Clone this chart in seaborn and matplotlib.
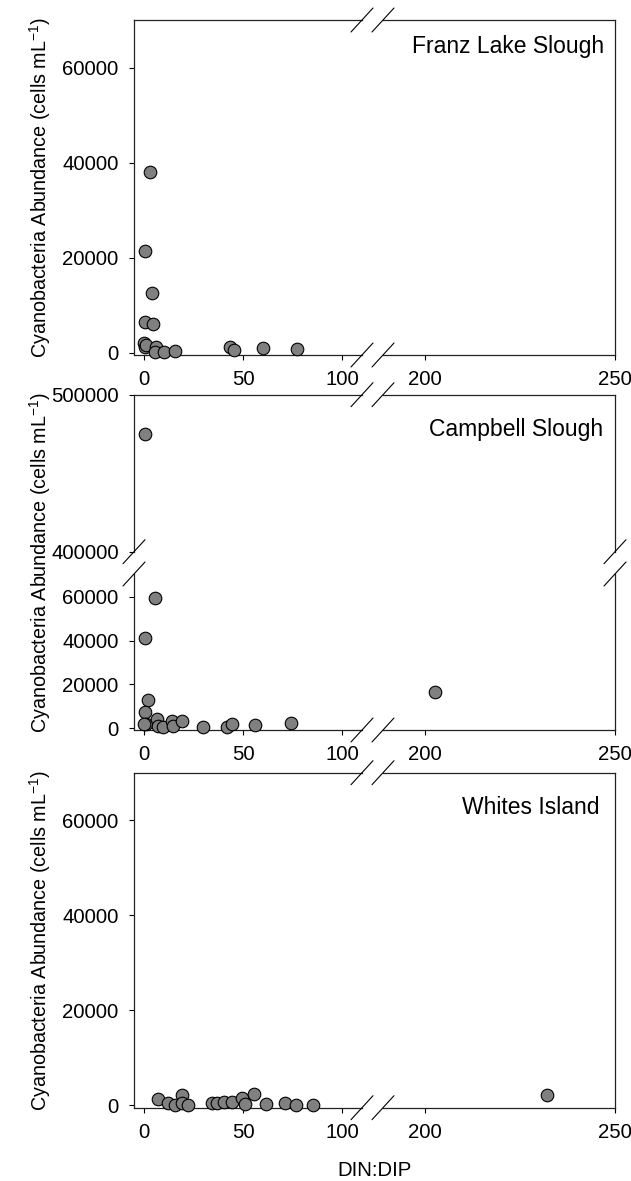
import matplotlib
matplotlib.use('Agg')
import matplotlib.pyplot as plt
import seaborn as sns
import numpy as np
from matplotlib.lines import Line2D
from matplotlib.ticker import StrMethodFormatter

# --- data (DIN:DIP vs cyanobacteria cells/mL) ---
fls_x = [3.0, 0.7, 4.0, 0.7, 4.4, 0.2, 0.6, 1.2, 6.2, 5.6, 9.9, 15.7, 43.6, 45.3, 60.3, 77.1]
fls_y = [38000, 21400, 12500, 6500, 6000, 2000, 1200, 1500, 1200, 200, 200, 300, 1100, 500, 900, 750]

cs_x = [0.5, 5.6, 0.5, 2.2, 0.8, 1.0, 0.2, 6.4, 7.2, 9.8, 14.0, 14.8, 19.0, 29.6, 42.1, 44.3, 56.2, 74.1, 202.6]
cs_y = [475000, 59300, 41300, 12800, 7300, 1800, 2000, 4100, 1200, 450, 3300, 800, 3500, 450, 450, 1800,
        1500, 2600, 16700]

wi_x = [7.2, 12.3, 15.7, 19.0, 19.0, 22.4, 34.2, 36.7, 40.4, 44.3, 49.3, 51.0, 55.6, 61.4, 71.4, 76.8, 85.2, 232.1]
wi_y = [1400, 500, 100, 2100, 500, 150, 500, 500, 600, 700, 1600, 350, 2300, 350, 500, 150, 150, 2100]

site_names = ['Franz Lake Slough', 'Campbell Slough', 'Whites Island']
left_xticks = [0, 50, 100]
right_xticks = [200, 250]
low_yticks = [0, 20000, 40000, 60000]
high_yticks = [400000, 500000]

W, H = 631, 1181
sns.set_style('ticks')
plt.rcParams['font.family'] = ['Liberation Sans', 'DejaVu Sans']
plt.rcParams['mathtext.default'] = 'regular'
plt.rcParams['text.color'] = 'black'

fig = plt.figure(figsize=(W / 100, H / 100), dpi=100)

XL = (134, 362)
XR = (383, 615)
LEFT_LIM = (-5, 110)
RIGHT_LIM = (189, 250)
FS = 14.7


def add_ax(x0, x1, y0, y1):
    return fig.add_axes([x0 / W, 1 - y1 / H, (x1 - x0) / W, (y1 - y0) / H])


def slash(xc, yc):
    fig.add_artist(Line2D([(xc - 11) / W, (xc + 11) / W], [1 - (yc + 12) / H, 1 - (yc - 12) / H],
                          color='black', lw=0.8, transform=fig.transFigure))


def draw_panel(rows, xs, ys, name, title_xy):
    xs = np.asarray(xs)
    ys = np.asarray(ys)
    n = len(rows)
    for i, (y0, y1, ylim, yticks) in enumerate(rows):
        for side, (x0, x1), xlim, xticks in [('L', XL, LEFT_LIM, left_xticks),
                                             ('R', XR, RIGHT_LIM, right_xticks)]:
            ax = add_ax(x0, x1, y0, y1)
            m = (xs >= xlim[0]) & (xs <= xlim[1]) & (ys >= ylim[0]) & (ys <= ylim[1])
            sns.scatterplot(x=xs[m], y=ys[m], ax=ax, color='#808080', edgecolor='black',
                            linewidth=0.8, s=82, clip_on=False, zorder=3)
            ax.set_xlim(xlim)
            ax.set_ylim(ylim)
            ax.set_xlabel('')
            ax.set_ylabel('')
            ax.spines['left'].set_visible(side == 'L')
            ax.spines['right'].set_visible(side == 'R')
            ax.spines['top'].set_visible(i == 0)
            ax.spines['bottom'].set_visible(i == n - 1)
            for sp in ax.spines.values():
                sp.set_linewidth(0.9)
                sp.set_color('#222222')
            ax.tick_params(direction='out', length=3.5, width=0.8, labelsize=FS, pad=7.5,
                           colors='black')
            if side == 'L':
                ax.set_yticks(yticks)
                ax.yaxis.set_major_formatter(StrMethodFormatter('{x:.0f}'))
            else:
                ax.set_yticks([])
            if i == n - 1:
                ax.set_xticks(xticks)
            else:
                ax.set_xticks([])
            ax.patch.set_alpha(0)
        # x-axis break marks
        if i == 0:
            slash(XL[1], y0)
            slash(XR[0], y0)
        if i == n - 1:
            slash(XL[1], y1)
            slash(XR[0], y1)
        # y-axis break marks
        if i < n - 1:
            slash(XL[0], y1)
            slash(XR[1], y1)
            slash(XL[0], rows[i + 1][0])
            slash(XR[1], rows[i + 1][0])

    top, bottom = rows[0][0], rows[-1][1]
    fig.text(40 / W, 1 - (top + bottom) / 2 / H, 'Cyanobacteria Abundance (cells mL$^{-1}$)',
             rotation=90, ha='center', va='center', fontsize=14.2, color='black')
    fig.text(title_xy[0] / W, 1 - title_xy[1] / H, name, ha='right', va='center',
             fontsize=16.5, color='black')


draw_panel([(20, 355, (-500, 70000), low_yticks)], fls_x, fls_y, site_names[0], (604, 47))
draw_panel([(394.7, 551.7, (400000, 500000), high_yticks),
            (574, 730, (-800, 70360), low_yticks)], cs_x, cs_y, site_names[1], (603, 430))
draw_panel([(772.7, 1107.7, (-500, 70000), low_yticks)], wi_x, wi_y, site_names[2], (600, 807))

fig.text(375 / W, 1 - 1170 / H, 'DIN:DIP', ha='center', va='center', fontsize=FS, color='black')

fig.savefig('out.png', dpi=100)
